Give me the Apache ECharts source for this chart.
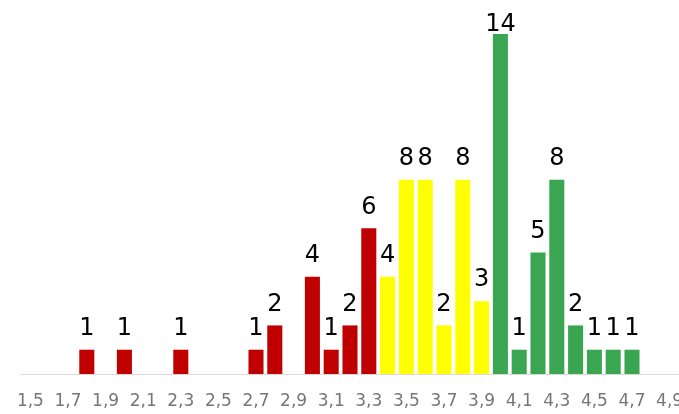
<!DOCTYPE html>
<html>
<head>
<meta charset="utf-8">
<script src="https://cdn.jsdelivr.net/npm/echarts@6/dist/echarts.min.js"></script>
<style>html,body{margin:0;padding:0;background:#fff;}#c{width:679px;height:414px;}</style>
</head>
<body>
<div id="c"></div>
<script>
var categories = ['1,5','1,6','1,7','1,8','1,9','2,0','2,1','2,2','2,3','2,4','2,5','2,6','2,7','2,8','2,9','3,0','3,1','3,2','3,3','3,4','3,5','3,6','3,7','3,8','3,9','4,0','4,1','4,2','4,3','4,4','4,5','4,6','4,7','4,8','4,9'];
var counts = [null,null,null,1,null,1,null,null,1,null,null,null,1,2,null,4,1,2,6,4,8,8,2,8,3,14,1,5,8,2,1,1,1,null,null];
// colour band per category: 'r' red, 'y' yellow, 'g' green
var bands = ['r','r','r','r','r','r','r','r','r','r','r','r','r','r','r','r','r','r','r','y','y','y','y','y','y','g','g','g','g','g','g','g','g','g','g'];
var bandColors = {r:'#C00000', y:'#FFFF00', g:'#3AA651'};
var yMax = 14;

var data = counts.map(function(v,i){
  var d = {value: v, itemStyle:{color: bandColors[bands[i]]}};
  if (v === yMax) d.label = {distance: -3};
  return d;
});

var chart = echarts.init(document.getElementById('c'));
chart.setOption({
  animation:false,
  grid:{left:21,right:0,top:34,bottom:40,containLabel:false,outerBoundsMode:'none'},
  xAxis:{
    type:'category',
    data:categories,
    axisLine:{show:true,lineStyle:{color:'#d9d9d9',width:1}},
    axisTick:{show:false},
    axisLabel:{interval:1,color:'#767676',fontSize:17,fontFamily:'DejaVu Sans',margin:19,hideOverlap:false}
  },
  yAxis:{
    type:'value',min:0,max:yMax,show:false,
    splitLine:{show:false}
  },
  series:[{
    type:'bar',
    data:data,
    barWidth:'80%',
    label:{show:true,position:'top',distance:9,color:'#000',fontSize:24,fontFamily:'DejaVu Sans'}
  }]
});
</script>
</body>
</html>
